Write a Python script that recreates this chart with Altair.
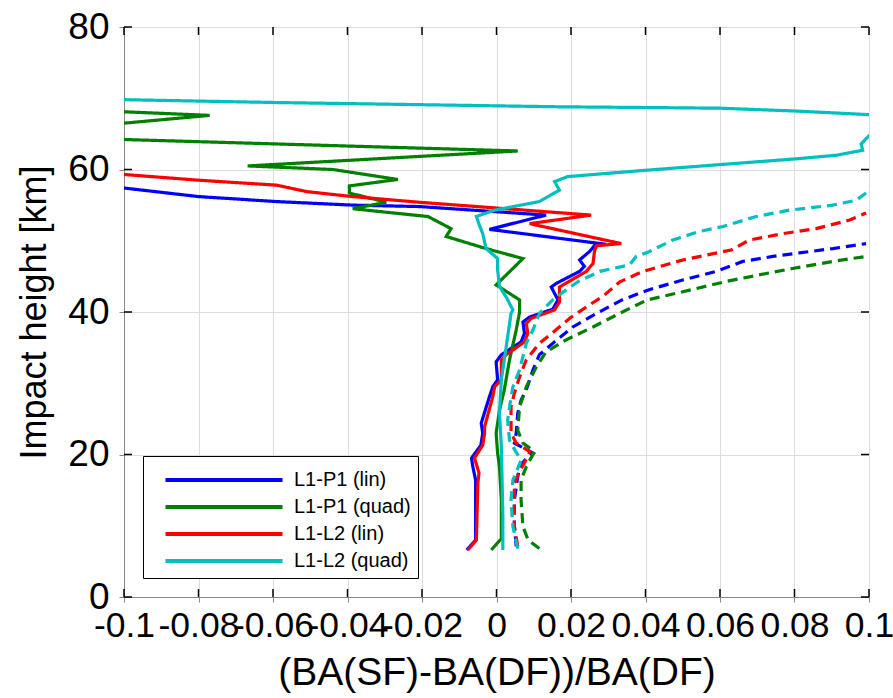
import altair as alt
import pandas as pd

# axis tick positions
x_ticks = [-0.1, -0.08, -0.06, -0.04, -0.02, 0, 0.02, 0.04, 0.06, 0.08, 0.1]
y_ticks = [0, 20, 40, 60, 80]

series_names = ["L1-P1 (lin)", "L1-P1 (quad)", "L1-L2 (lin)", "L1-L2 (quad)"]
series_colors = ["#0000ff", "#008000", "#ff0000", "#00bfbf"]

# ---- solid profiles: impact height [km] and relative bending-angle difference ----
p1_lin_h = [6.6, 8.0, 13.6, 16.4, 18.4, 19.5, 21.3, 23.0, 24.4, 28.1, 29.5, 30.5, 33.0, 34.0,
            35.8, 37.0, 38.6, 39.3, 40.4, 41.7, 43.5, 44.0, 45.7, 46.4, 47.3, 48.5, 49.3, 49.5,
            51.6, 53.6, 54.8, 55.0, 55.5, 56.2, 57.4, 58.5]
p1_lin_v = [-0.0080, -0.0056, -0.0056, -0.0056, -0.0064, -0.0067, -0.0042, -0.0037, -0.0041,
            -0.0019, -0.0010, 0.0003, -0.0001, 0.0013, 0.0066, 0.0075, 0.0071, 0.0089, 0.0151,
            0.0165, 0.0147, 0.0160, 0.0223, 0.0236, 0.0223, 0.0250, 0.0263, 0.0294, -0.0019,
            0.0133, -0.0207, -0.0386, -0.0591, -0.0800, -0.1000, -0.1200]

p1_quad_h = [6.6, 8.2, 13.6, 18.3, 20.2, 23.0, 26.2, 29.1, 33.3, 37.5, 40.0, 41.7, 43.8, 47.5,
             48.9, 50.6, 51.7, 53.4, 54.1, 54.5, 55.4, 56.7, 57.7, 58.6, 60.0, 60.5, 62.6, 64.2,
             65.3, 66.5, 67.6, 68.1, 68.6]
p1_quad_v = [-0.0014, 0.0013, 0.0013, 0.0008, 0.0003, -0.0001, 0.0008, 0.0021, 0.0035, 0.0053,
             0.0062, 0.0062, -0.0001, 0.0071, -0.0028, -0.0135, -0.0122, -0.0184, -0.0314,
             -0.0386, -0.0296, -0.0395, -0.0395, -0.0265, -0.0439, -0.0668, 0.0057, -0.0994,
             -0.1300, -0.1000, -0.0770, -0.1000, -0.1200]

l2_lin_h = [6.6, 8.0, 12.0, 16.0, 17.4, 19.5, 21.3, 23.0, 23.9, 28.1, 29.5, 30.5, 33.3, 34.0,
            35.8, 37.0, 38.4, 39.1, 40.3, 41.4, 43.5, 45.7, 46.8, 48.5, 49.3, 49.6, 52.4, 53.6,
            55.4, 56.2, 56.9, 57.8, 58.5, 59.3, 60.2]
l2_lin_v = [-0.0077, -0.0054, -0.0052, -0.0050, -0.0047, -0.0059, -0.0037, -0.0032, -0.0032,
            -0.0010, -0.0005, 0.0013, 0.0013, 0.0026, 0.0075, 0.0084, 0.0080, 0.0093, 0.0156,
            0.0169, 0.0169, 0.0241, 0.0259, 0.0263, 0.0268, 0.0335, 0.0089, 0.0254, -0.0207,
            -0.0387, -0.0510, -0.0590, -0.0800, -0.1000, -0.1200]

l2_quad_h = [6.6, 11.7, 16.4, 21.1, 25.8, 30.5, 35.1, 39.8, 40.3, 42.1, 43.6, 45.9, 47.5, 48.9,
             51.0, 52.2, 53.4, 54.3, 55.5, 57.1, 58.3, 59.0, 59.9, 60.7, 61.5, 62.0, 62.7, 63.6,
             64.8, 66.2, 67.7, 68.2, 68.6, 68.7, 68.8, 69.1, 69.4, 69.8, 70.1]
l2_quad_v = [0.0017, 0.0017, 0.0015, 0.0013, 0.0008, 0.0013, 0.0026, 0.0039, 0.0044, 0.0026,
             0.0008, 0.0003, 0.0003, -0.0028, -0.0037, -0.0046, -0.0054, -0.0005, 0.0115, 0.0169,
             0.0156, 0.0191, 0.0402, 0.0603, 0.0805, 0.0912, 0.0983, 0.0979, 0.1001, 0.1300,
             0.1000, 0.0805, 0.0603, 0.0402, 0.0169, -0.0207, -0.0591, -0.1000, -0.1200]

# ---- dashed profiles ----
p1_lin_dh = [7.1, 9.9, 13.6, 16.9, 18.3, 19.7, 20.2, 21.6, 23.0, 25.8, 27.6, 29.1, 31.9, 34.0,
             35.6, 37.9, 39.9, 41.7, 43.1, 44.5, 45.7, 47.1, 47.8, 48.3, 48.9, 49.6]
p1_lin_dv = [0.0053, 0.0048, 0.0048, 0.0057, 0.0062, 0.0084, 0.0098, 0.0048, 0.0053, 0.0057,
             0.0066, 0.0080, 0.0098, 0.0115, 0.0151, 0.0205, 0.0272, 0.0337, 0.0408, 0.0500,
             0.0590, 0.0661, 0.0742, 0.0813, 0.0903, 0.0992]

p1_quad_dh = [6.8, 8.0, 9.9, 13.6, 16.4, 18.3, 20.4, 21.6, 23.4, 26.7, 29.5, 32.3, 34.4, 36.1,
              37.9, 39.8, 41.7, 42.8, 44.3, 45.4, 46.1, 47.1, 47.8]
p1_quad_dv = [0.0115, 0.0085, 0.0071, 0.0066, 0.0066, 0.0080, 0.0102, 0.0071, 0.0057, 0.0062,
              0.0080, 0.0107, 0.0133, 0.0187, 0.0259, 0.0330, 0.0405, 0.0497, 0.0617, 0.0724,
              0.0795, 0.0903, 0.0992]

l2_lin_dh = [7.1, 9.9, 13.6, 16.0, 17.6, 19.7, 20.4, 21.6, 23.0, 26.7, 28.6, 30.9, 33.3, 35.6,
             37.5, 39.1, 40.7, 42.3, 44.2, 45.7, 47.3, 48.7, 50.1, 51.0, 51.7, 52.9, 53.9]
l2_lin_dv = [0.0057, 0.0048, 0.0048, 0.0048, 0.0062, 0.0084, 0.0089, 0.0053, 0.0039, 0.0039,
             0.0048, 0.0062, 0.0080, 0.0115, 0.0160, 0.0196, 0.0241, 0.0288, 0.0330, 0.0393,
             0.0500, 0.0630, 0.0679, 0.0769, 0.0858, 0.0948, 0.0992]

l2_quad_dh = [6.8, 9.9, 13.6, 16.4, 19.2, 21.1, 22.0, 24.8, 26.7, 29.5, 31.9, 35.6, 37.5, 39.8,
              41.7, 43.1, 44.3, 45.7, 46.6, 47.8, 48.5, 50.1, 51.3, 52.0, 53.4, 54.3, 55.0,
              55.7, 56.7]
l2_quad_dv = [0.0057, 0.0044, 0.0039, 0.0044, 0.0066, 0.0044, 0.0035, 0.0030, 0.0035, 0.0044,
              0.0062, 0.0080, 0.0098, 0.0115, 0.0151, 0.0187, 0.0220, 0.0277, 0.0357, 0.0375,
              0.0411, 0.0473, 0.0545, 0.0608, 0.0697, 0.0787, 0.0903, 0.0966, 0.0992]

profiles = [
    ("L1-P1 (lin)", "solid", p1_lin_h, p1_lin_v),
    ("L1-P1 (quad)", "solid", p1_quad_h, p1_quad_v),
    ("L1-L2 (lin)", "solid", l2_lin_h, l2_lin_v),
    ("L1-L2 (quad)", "solid", l2_quad_h, l2_quad_v),
    ("L1-P1 (lin)", "dashed", p1_lin_dh, p1_lin_dv),
    ("L1-P1 (quad)", "dashed", p1_quad_dh, p1_quad_dv),
    ("L1-L2 (lin)", "dashed", l2_lin_dh, l2_lin_dv),
    ("L1-L2 (quad)", "dashed", l2_quad_dh, l2_quad_dv),
]

rows = []
for name, kind, hs, vs in profiles:
    for i, (h, v) in enumerate(zip(hs, vs)):
        rows.append({"series": name, "kind": kind, "i": i, "h": h, "v": v})
df = pd.DataFrame(rows)

W, H = 745, 570
FONT = "Liberation Sans"
TICK_LEN = 8
X_TITLE = "(BA(SF)-BA(DF))/BA(DF)"
Y_TITLE = "Impact height [km]"

x_scale = alt.Scale(domain=[-0.1, 0.1], nice=False, zero=False)
y_scale = alt.Scale(domain=[0, 80], nice=False, zero=False)
x_axis = alt.Axis(values=x_ticks, labelExpr="toString(datum.value)", labelFlush=False,
                  labelOverlap=False, labelPadding=6, labelFontSize=35.5,
                  titleFontSize=39, titleFontWeight="normal", titlePadding=10)
y_axis = alt.Axis(values=y_ticks, labelPadding=10, labelFontSize=37,
                  titleFontSize=36, titleFontWeight="normal", titlePadding=14)

# a long horizontal line as the legend key
LEG_SIZE = 856
legend = alt.Legend(title=None, orient="none", legendX=19, legendY=429,
                    fillColor="white", strokeColor="black",
                    symbolType="M-4,0H4", symbolSize=LEG_SIZE, symbolStrokeWidth=4,
                    labelFont=FONT, labelFontSize=20, labelColor="black",
                    padding=7, rowPadding=0, symbolOffset=57, labelOffset=53)

lines = alt.Chart(df).mark_line(clip=True, strokeWidth=3.2).encode(
    x=alt.X("v:Q", scale=x_scale, axis=x_axis, title=X_TITLE),
    y=alt.Y("h:Q", scale=y_scale, axis=y_axis, title=Y_TITLE),
    color=alt.Color("series:N",
                    scale=alt.Scale(domain=series_names, range=series_colors),
                    legend=legend),
    strokeDash=alt.StrokeDash("kind:N",
                              scale=alt.Scale(domain=["solid", "dashed"],
                                              range=[[1, 0], [10, 6]]),
                              legend=None),
    order="i:Q",
)

# inward tick marks on all four sides of the frame
xt = pd.DataFrame({"t": x_ticks})
yt = pd.DataFrame({"t": y_ticks})
tick_x = alt.X("t:Q", scale=x_scale, axis=x_axis, title=X_TITLE)
tick_y = alt.Y("t:Q", scale=y_scale, axis=y_axis, title=Y_TITLE)
bottom_ticks = alt.Chart(xt).mark_rule(color="black", strokeWidth=1.5).encode(
    x=tick_x, y=alt.value(H), y2=alt.value(H - TICK_LEN))
top_ticks = alt.Chart(xt).mark_rule(color="black", strokeWidth=1.5).encode(
    x=tick_x, y=alt.value(0), y2=alt.value(TICK_LEN))
left_ticks = alt.Chart(yt).mark_rule(color="black", strokeWidth=1.5).encode(
    y=tick_y, x=alt.value(0), x2=alt.value(TICK_LEN))
right_ticks = alt.Chart(yt).mark_rule(color="black", strokeWidth=1.5).encode(
    y=tick_y, x=alt.value(W), x2=alt.value(W - TICK_LEN))

chart = alt.layer(lines, bottom_ticks, top_ticks, left_ticks, right_ticks).properties(
    width=W, height=H,
    autosize=alt.AutoSizeParams(type="none"),
    padding={"left": 124, "top": 27, "right": 24, "bottom": 101},
).configure_view(
    stroke="black", strokeWidth=2,
).configure_axis(
    labelFont=FONT, titleFont=FONT, labelColor="black", titleColor="black",
    titleFontWeight="normal", grid=True, gridColor="#555555", gridDash=[1, 3],
    gridWidth=1, gridOpacity=1, ticks=False, domain=False,
).configure(background="white")

chart.save("out.html", embed_options={"renderer": "svg", "actions": False})
